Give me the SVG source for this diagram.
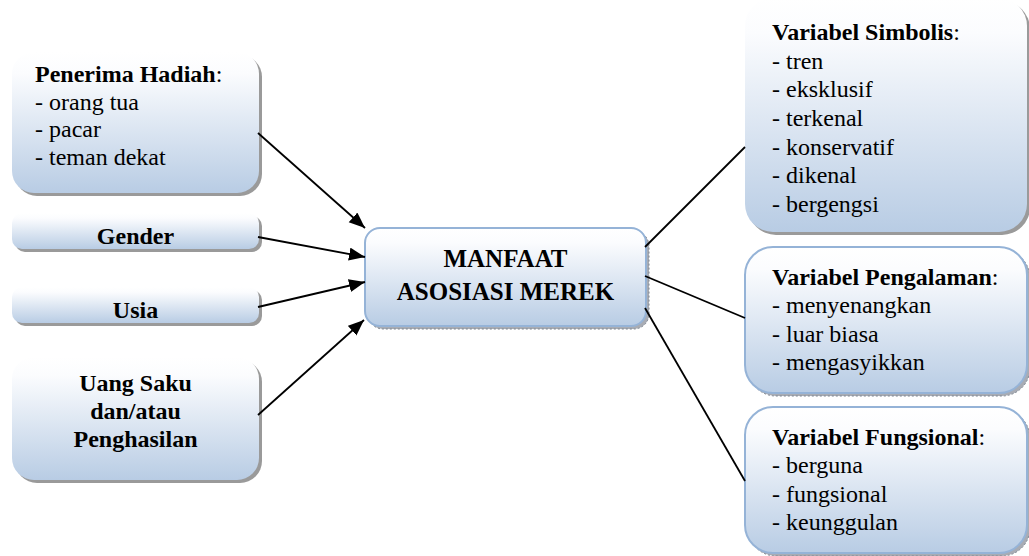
<svg xmlns="http://www.w3.org/2000/svg" width="1029" height="556" viewBox="0 0 1029 556">
  <defs>
    <linearGradient id="fillBlue" x1="0" y1="0" x2="0" y2="1">
      <stop offset="0" stop-color="#ffffff"/>
      <stop offset="0.15" stop-color="#fbfcfe"/>
      <stop offset="1" stop-color="#b8cce4"/>
    </linearGradient>
    <marker id="arrowHead" markerUnits="userSpaceOnUse" markerWidth="17" markerHeight="14" refX="16" refY="6.5" orient="auto">
      <path d="M0,0 L16,6.5 L0,13 z" fill="#000"/>
    </marker>
    <style>
      .box { fill: url(#fillBlue); }
      .edged { stroke: #95b3d7; stroke-width: 2; }
      .shadow { fill: #9a9a9a; }
      .shadowDots { fill: #a8acb4; stroke: #7d8590; stroke-width: 1; stroke-dasharray: 2 2; }
      .lbl { font-size: 24px; fill: #000; }
      .b { font-weight: bold; }
      .mid { text-anchor: middle; }
      .conn { stroke: #000; stroke-width: 1.8; fill: none; }
    </style>
  </defs>

  <g font-family="Liberation Serif, Tinos, DejaVu Serif, serif">
  <!-- left-hand input boxes -->
  <g id="penerima-hadiah">
    <rect class="shadow" x="15" y="55" width="247" height="141" rx="22"/>
    <rect class="box" x="12" y="52" width="247" height="141" rx="22"/>
    <text class="lbl" x="35" y="82"><tspan class="b">Penerima Hadiah</tspan>:</text>
    <text class="lbl" x="35" y="109.5">- orang tua</text>
    <text class="lbl" x="35" y="137">- pacar</text>
    <text class="lbl" x="35" y="164.5">- teman dekat</text>
  </g>

  <g id="gender">
    <rect class="shadow" x="15" y="216" width="247" height="36" rx="10"/>
    <rect class="box" x="12" y="213" width="247" height="36" rx="10"/>
    <text class="lbl b mid" x="135.5" y="244">Gender</text>
  </g>

  <g id="usia">
    <rect class="shadow" x="15" y="290" width="247" height="36" rx="10"/>
    <rect class="box" x="12" y="287" width="247" height="36" rx="10"/>
    <text class="lbl b mid" x="135.5" y="318">Usia</text>
  </g>

  <g id="uang-saku">
    <rect class="shadow" x="15" y="360" width="247" height="123" rx="22"/>
    <rect class="box" x="12" y="357" width="247" height="123" rx="22"/>
    <text class="lbl b mid" x="135.5" y="391">Uang Saku</text>
    <text class="lbl b mid" x="135.5" y="419">dan/atau</text>
    <text class="lbl b mid" x="135.5" y="447">Penghasilan</text>
  </g>

  <!-- central node -->
  <g id="manfaat">
    <rect class="shadowDots" x="368" y="231" width="281" height="98" rx="15"/>
    <rect class="box edged" x="365" y="228" width="281" height="98" rx="15"/>
    <text class="lbl b mid" x="505.5" y="267" style="font-size:25px">MANFAAT</text>
    <text class="lbl b mid" x="505.5" y="300" style="font-size:25px">ASOSIASI MEREK</text>
  </g>

  <!-- right-hand variable boxes -->
  <g id="variabel-simbolis">
    <rect class="shadow" x="748" y="1" width="282" height="234" rx="28"/>
    <rect class="box" x="745" y="-2" width="282" height="234" rx="28"/>
    <text class="lbl" x="772" y="40"><tspan class="b">Variabel Simbolis</tspan>:</text>
    <text class="lbl" x="772" y="68.7">- tren</text>
    <text class="lbl" x="772" y="97.3">- eksklusif</text>
    <text class="lbl" x="772" y="126">- terkenal</text>
    <text class="lbl" x="772" y="154.7">- konservatif</text>
    <text class="lbl" x="772" y="183.3">- dikenal</text>
    <text class="lbl" x="772" y="212">- bergengsi</text>
  </g>

  <g id="variabel-pengalaman">
    <rect class="shadowDots" x="748" y="250" width="282" height="146" rx="28"/>
    <rect class="box edged" x="745" y="247" width="282" height="146" rx="28"/>
    <text class="lbl" x="772" y="285"><tspan class="b">Variabel Pengalaman</tspan>:</text>
    <text class="lbl" x="772" y="313">- menyenangkan</text>
    <text class="lbl" x="772" y="342">- luar biasa</text>
    <text class="lbl" x="772" y="370">- mengasyikkan</text>
  </g>

  <g id="variabel-fungsional">
    <rect class="shadowDots" x="748" y="410" width="282" height="146" rx="28"/>
    <rect class="box edged" x="745" y="407" width="282" height="146" rx="28"/>
    <text class="lbl" x="772" y="445"><tspan class="b">Variabel Fungsional</tspan>:</text>
    <text class="lbl" x="772" y="473">- berguna</text>
    <text class="lbl" x="772" y="502">- fungsional</text>
    <text class="lbl" x="772" y="530">- keunggulan</text>
  </g>
  </g>

  <!-- connectors -->
  <g id="connectors">
    <line class="conn" x1="258" y1="133" x2="365" y2="228" marker-end="url(#arrowHead)"/>
    <line class="conn" x1="258" y1="237" x2="365" y2="257" marker-end="url(#arrowHead)"/>
    <line class="conn" x1="258" y1="307" x2="365" y2="282" marker-end="url(#arrowHead)"/>
    <line class="conn" x1="258" y1="415" x2="364" y2="320" marker-end="url(#arrowHead)"/>
    <line class="conn" x1="645" y1="247" x2="745" y2="147"/>
    <line class="conn" x1="645" y1="276" x2="745" y2="318"/>
    <line class="conn" x1="645" y1="308" x2="745" y2="481"/>
  </g>
</svg>
